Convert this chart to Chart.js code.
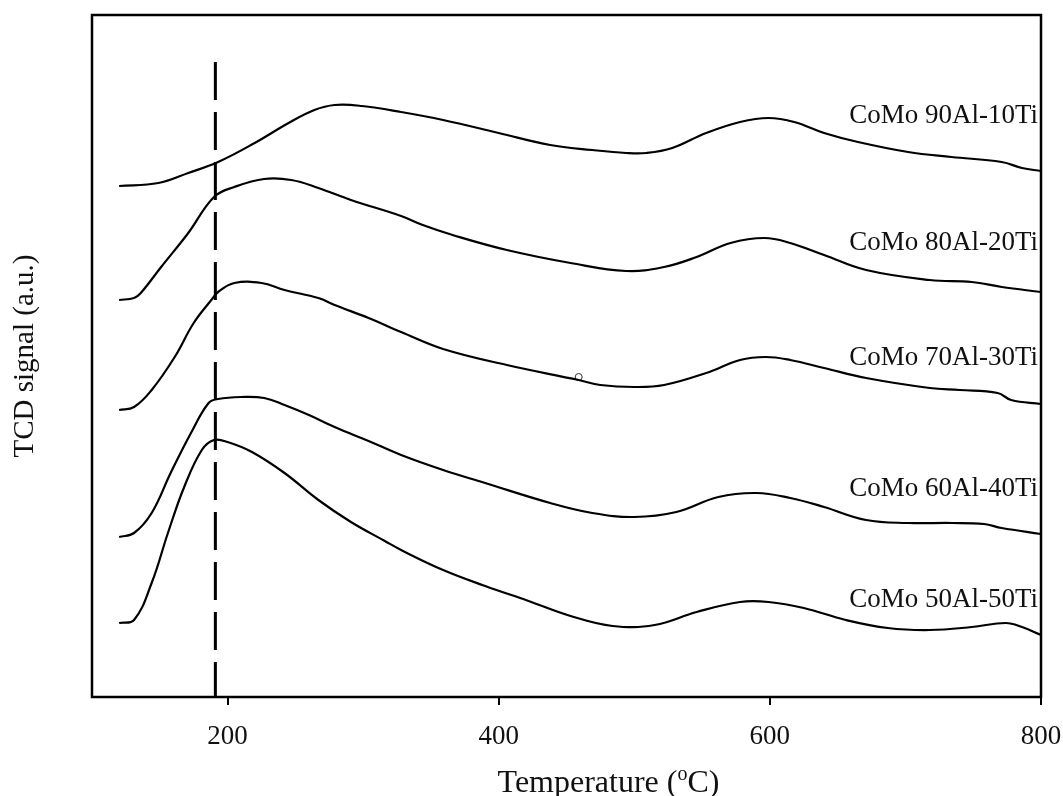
<!DOCTYPE html>
<html>
<head>
<meta charset="utf-8">
<script src="https://cdn.jsdelivr.net/npm/chart.js@4.4.1/dist/chart.umd.min.js"></script>
<style>
html, body { margin: 0; padding: 0; background: #fff; }
#wrap { width: 1063px; height: 796px; }
</style>
</head>
<body>
<div id="wrap"><canvas id="tprChart"></canvas></div>
<script>
// sample names, top to bottom
const sampleNames = ["CoMo 90Al-10Ti", "CoMo 80Al-20Ti", "CoMo 70Al-30Ti", "CoMo 60Al-40Ti", "CoMo 50Al-50Ti"]
const xTicks = [200, 400, 600, 800]

// temperature (°C) and TCD signal (a.u., stacked offsets as drawn)
const temp90 = [120, 149, 171, 193, 220, 245, 264, 279, 299, 328, 359, 400, 438, 469, 494, 509, 528, 553, 578, 599, 618, 640, 665, 702, 734, 771, 786, 800]
const sig90 = [511, 514, 524, 535, 554, 574, 587, 592, 591, 585, 577, 564, 552, 547, 544, 544, 549, 564, 575, 579, 575, 564, 555, 545, 540, 535, 529, 526]

const temp80 = [120, 131, 136, 151, 171, 190, 205, 227, 247, 267, 291, 328, 344, 366, 406, 453, 494, 522, 546, 571, 596, 615, 640, 671, 718, 749, 771, 800]
const sig80 = [397, 399, 404, 430, 464, 500, 510, 518, 517, 509, 497, 481, 472, 462, 447, 434, 426, 430, 440, 454, 459, 454, 442, 427, 417, 415, 410, 405]

const temp70 = [120, 131, 144, 161, 175, 188, 193, 205, 225, 242, 267, 279, 304, 328, 359, 406, 459, 475, 500, 522, 553, 578, 597, 615, 640, 671, 718, 740, 768, 778, 800]
const sig70 = [287, 290, 307, 340, 374, 397, 405, 414, 414, 407, 399, 392, 379, 365, 348, 332, 317, 312, 310, 312, 324, 337, 340, 337, 329, 319, 309, 307, 304, 297, 293]

const temp60 = [120, 131, 144, 158, 173, 186, 193, 210, 227, 242, 260, 279, 304, 328, 359, 390, 438, 469, 500, 531, 562, 590, 615, 640, 671, 702, 734, 758, 771, 800]
const sig60 = [160, 164, 184, 224, 264, 294, 298, 300, 299, 292, 282, 270, 256, 242, 227, 214, 194, 184, 180, 185, 200, 204, 199, 190, 177, 174, 174, 173, 169, 163]

const temp50 = [120, 131, 144, 156, 168, 181, 190, 200, 218, 242, 267, 291, 316, 328, 359, 390, 422, 453, 484, 515, 546, 578, 599, 625, 656, 687, 718, 749, 774, 786, 800]
const sig50 = [74, 77, 114, 164, 210, 247, 257, 255, 245, 224, 197, 175, 156, 147, 127, 111, 96, 81, 71, 72, 85, 95, 95, 89, 77, 69, 67, 70, 74, 70, 62]

// reference line at the low temperature peak
const refTemp = 191
const refSpan = [635, 0]

// stray open circle on the 70Al-30Ti trace
const strayMark = [{ x: 459, y: 320 }]

const temps = [temp90, temp80, temp70, temp60, temp50]
const sigs = [sig90, sig80, sig70, sig60, sig50]

// label baselines on the signal axis
const labelLevels = [574, 447, 332, 201, 90]

const serif = "'Liberation Serif', 'Times New Roman', serif"

const framePlugin = {
	id: "frameAndLabels",
	afterDatasetsDraw(chart) {
		const ctx = chart.ctx
		const area = chart.chartArea
		const yScale = chart.scales.y
		ctx.save()
		ctx.strokeStyle = "#000"
		ctx.lineWidth = 2.5
		ctx.strokeRect(area.left, area.top, area.right - area.left, area.bottom - area.top)

		ctx.fillStyle = "#111"
		ctx.font = "27px " + serif
		ctx.textAlign = "right"
		ctx.textBaseline = "alphabetic"
		sampleNames.forEach((name, i) => {
			ctx.fillText(name, area.right - 3, yScale.getPixelForValue(labelLevels[i]))
		})

		// x axis title with superscript o
		const big = "32px " + serif
		const small = "20px " + serif
		ctx.textAlign = "left"
		ctx.font = big
		const w1 = ctx.measureText("Temperature (").width
		const w3 = ctx.measureText("C)").width
		ctx.font = small
		const w2 = ctx.measureText("o").width
		const total = w1 + w2 + w3
		const cx = (area.left + area.right) / 2 + 42
		const base = 792
		let x = cx - total / 2
		ctx.font = big
		ctx.fillText("Temperature (", x, base)
		x += w1
		ctx.font = small
		ctx.fillText("o", x, base - 12)
		x += w2
		ctx.font = big
		ctx.fillText("C)", x, base)
		ctx.restore()
	}
}

const datasets = temps.map((t, i) => ({
	label: sampleNames[i],
	data: t.map((v, j) => ({ x: v, y: sigs[i][j] })),
	borderColor: "#000",
	borderWidth: 2.2,
	pointRadius: 0,
	fill: false,
	tension: 0.4
}))

datasets.push({
	label: "ref",
	data: refSpan.map(v => ({ x: refTemp, y: v })),
	borderColor: "#000",
	borderWidth: 3,
	borderDash: [38, 12],
	pointRadius: 0,
	fill: false
})

datasets.push({
	label: "mark",
	data: strayMark,
	showLine: false,
	pointRadius: 3.5,
	pointBorderWidth: 1,
	pointBorderColor: "#333",
	pointBackgroundColor: "rgba(255,255,255,0)"
})

const tprChart = new Chart(
	document.getElementById("tprChart"),
	{
		type: "line",
		data: { datasets: datasets },
		options: {
			responsive: true,
			maintainAspectRatio: false,
			animation: false,
			layout: { padding: { left: 0, top: 15, right: 22, bottom: 0 } },
			plugins: {
				legend: { display: false },
				tooltip: { enabled: false }
			},
			scales: {
				x: {
					type: "linear",
					min: 100,
					max: 800,
					afterBuildTicks: axis => { axis.ticks = xTicks.map(v => ({ value: v })) },
					afterFit: axis => {
						axis.height = 99
						axis.paddingLeft = 0
						axis.paddingRight = 0
					},
					border: { display: false },
					grid: {
						drawOnChartArea: false,
						drawTicks: true,
						tickLength: 8,
						color: "#000",
						lineWidth: 2
					},
					ticks: {
						color: "#111",
						padding: 16,
						maxRotation: 0,
						font: { family: serif, size: 27 }
					}
				},
				y: {
					min: 0,
					max: 682,
					afterFit: axis => { axis.width = 92 },
					border: { display: false },
					grid: { display: false },
					ticks: { display: false },
					title: {
						display: true,
						text: "TCD signal (a.u.)",
						color: "#111",
						padding: { top: 8, bottom: 0 },
						font: { family: serif, size: 29 }
					}
				}
			}
		},
		plugins: [framePlugin]
	}
)
</script>
</body>
</html>
